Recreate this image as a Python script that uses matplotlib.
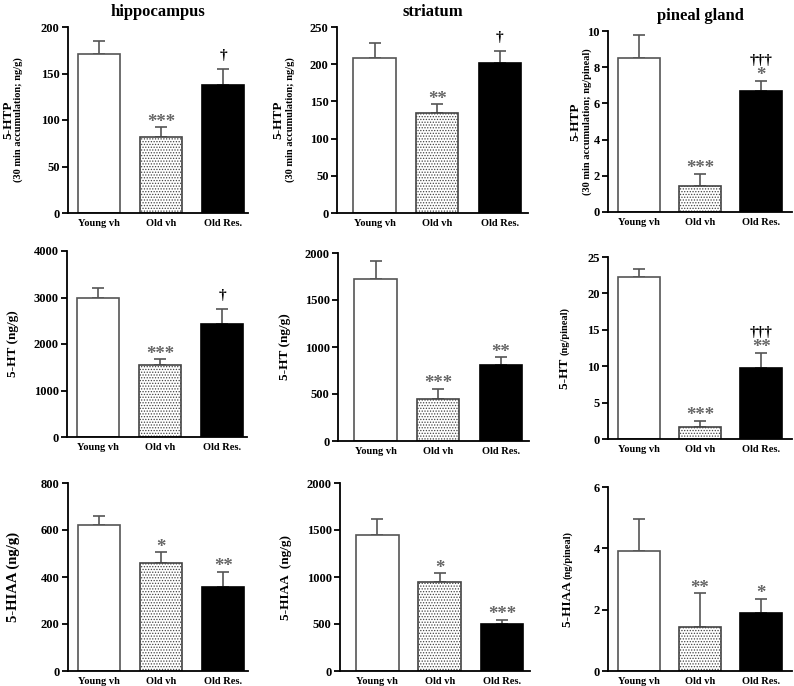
import matplotlib
matplotlib.use("Agg")
import matplotlib.pyplot as plt

plt.rcParams["font.family"] = ["Liberation Serif", "DejaVu Serif"]
plt.rcParams["font.weight"] = "bold"
plt.rcParams["hatch.linewidth"] = 0.6

W, H = 794, 686

groups = ["Young vh", "Old vh", "Old Res."]
regions = ["hippocampus", "striatum", "pineal gland"]

# means and upper SEM, row = compound, column = region
htp_mean = [[171, 82, 138], [209, 134, 201], [8.5, 1.45, 6.7]]
htp_err = [[14, 10, 17], [20, 12, 17], [1.3, 0.65, 0.55]]
ht_mean = [[3000, 1550, 2420], [1720, 450, 810], [22.3, 1.6, 9.8]]
ht_err = [[200, 120, 330], [190, 105, 80], [1.0, 0.9, 2.0]]
hiaa_mean = [[620, 460, 358], [1450, 950, 495], [3.9, 1.43, 1.9]]
hiaa_err = [[40, 45, 65], [170, 90, 50], [1.05, 1.1, 0.45]]

# significance vs young (stars) and vs old vh (daggers)
htp_stars = [["", "***", ""], ["", "**", ""], ["", "***", "*"]]
htp_dag = [["", "", "†"], ["", "", "†"], ["", "", "†††"]]
ht_stars = [["", "***", ""], ["", "***", "**"], ["", "***", "**"]]
ht_dag = [["", "", "†"], ["", "", ""], ["", "", "†††"]]
hiaa_stars = [["", "*", "**"], ["", "*", "***"], ["", "**", "*"]]
hiaa_dag = [["", "", ""], ["", "", ""], ["", "", ""]]

ymax = [[200, 250, 10], [4000, 2000, 25], [800, 2000, 6]]
ystep = [[50, 50, 2], [1000, 500, 5], [200, 500, 2]]

# y-label parts: (text, size); first row has two lines
ylab = [
    [[("5-HTP", 9.5)], [("5-HTP", 9.5)], [("5-HTP", 9.5)]],
    [[("5-HT (ng/g)", 9.5)], [("5-HT (ng/g)", 9.5)], [("5-HT ", 9.5), ("(ng/pineal)", 7.5)]],
    [[("5-HIAA (ng/g)", 10.5)], [("5-HIAA  (ng/g)", 9.5)], [("5-HIAA ", 9.5), ("(ng/pineal)", 7.5)]],
]
ylab_sub = [[("(30 min accumulation; ng/g)", 7.5)],
            [("(30 min accumulation; ng/g)", 7.5)],
            [("(30 min accumulation; ng/pineal)", 7.5)]]

means = [htp_mean, ht_mean, hiaa_mean]
errs = [htp_err, ht_err, hiaa_err]
stars = [htp_stars, ht_stars, hiaa_stars]
daggers = [htp_dag, ht_dag, hiaa_dag]

# axes boxes in pixels: left, top, right, bottom
boxes = [
    [(68, 27, 248, 213), (337, 27, 528, 213), (608, 31, 792, 212)],
    [(67, 251, 247, 437), (338, 253, 529, 441), (608, 257, 792, 439)],
    [(68, 483, 248, 671), (340, 483, 530, 671), (608, 487, 792, 671)],
]
label_x = [[8, 278, 575], [13, 285, 565], [13, 286, 568]]
sub_x = [18, 290, 587]
xlims = [(-0.5, 2.4), (-0.6, 2.45), (-0.5, 2.5)]

faces = ["white", "white", "black"]
edges = ["#555555", "#444444", "black"]
hatches = [None, "......", None]

fig = plt.figure(figsize=(W / 100, H / 100), dpi=100)
fig.canvas.draw()
renderer = fig.canvas.get_renderer()


def stacked_label(x_px, yc_px, parts):
    texts = [fig.text(0, 0, t, fontsize=s, fontweight="bold", rotation=90,
                      rotation_mode="anchor", ha="left", va="center")
             for t, s in parts]
    lengths = [t.get_window_extent(renderer).height for t in texts]
    y = yc_px + sum(lengths) / 2
    for t, ln in zip(texts, lengths):
        t.set_position((x_px / W, 1 - y / H))
        y -= ln


for r in range(3):
    for c in range(3):
        l, t, rt, b = boxes[r][c]
        ax = fig.add_axes([l / W, 1 - b / H, (rt - l) / W, (b - t) / H])
        x = range(3)
        ax.errorbar(x, means[r][c], yerr=[[0, 0, 0], errs[r][c]], fmt="none",
                    ecolor="#555555", elinewidth=1.2, capsize=4.5, capthick=1.2,
                    zorder=1)
        for i in x:
            ax.bar(i, means[r][c][i], width=0.68, color=faces[i],
                   edgecolor=edges[i], hatch=hatches[i], linewidth=1.2, zorder=2)
            top = means[r][c][i] + errs[r][c][i]
            s = stars[r][c][i]
            d = daggers[r][c][i]
            if s:
                ax.annotate(s, (i, top), xytext=(0, 0.5), textcoords="offset points",
                            ha="center", va="baseline", fontsize=13.5,
                            fontweight="bold", color="#666666", zorder=3)
            if d:
                dy = 12 if s else 7
                ax.annotate(d, (i, top), xytext=(0, dy), textcoords="offset points",
                            ha="center", va="baseline", fontsize=11,
                            color="black", zorder=3)
        ax.set_ylim(0, ymax[r][c])
        ax.set_yticks([k * ystep[r][c] for k in range(int(round(ymax[r][c] / ystep[r][c])) + 1)])
        ax.set_xlim(*xlims[c])
        ax.set_xticks(list(x))
        ax.set_xticklabels(groups, fontsize=7.5, fontweight="bold")
        ax.tick_params(axis="x", length=0, pad=4)
        ax.tick_params(axis="y", length=4, width=1.3, labelsize=9, pad=2)
        for sp in ["top", "right"]:
            ax.spines[sp].set_visible(False)
        for sp in ["left", "bottom"]:
            ax.spines[sp].set_linewidth(1.3)
        if r == 0:
            ax.set_title(regions[c], fontsize=12, fontweight="bold", pad=8)

        yc = (t + b) / 2
        stacked_label(label_x[r][c], yc, ylab[r][c])
        if r == 0:
            stacked_label(sub_x[c], yc, ylab_sub[c])

fig.savefig("out.png", dpi=100)
